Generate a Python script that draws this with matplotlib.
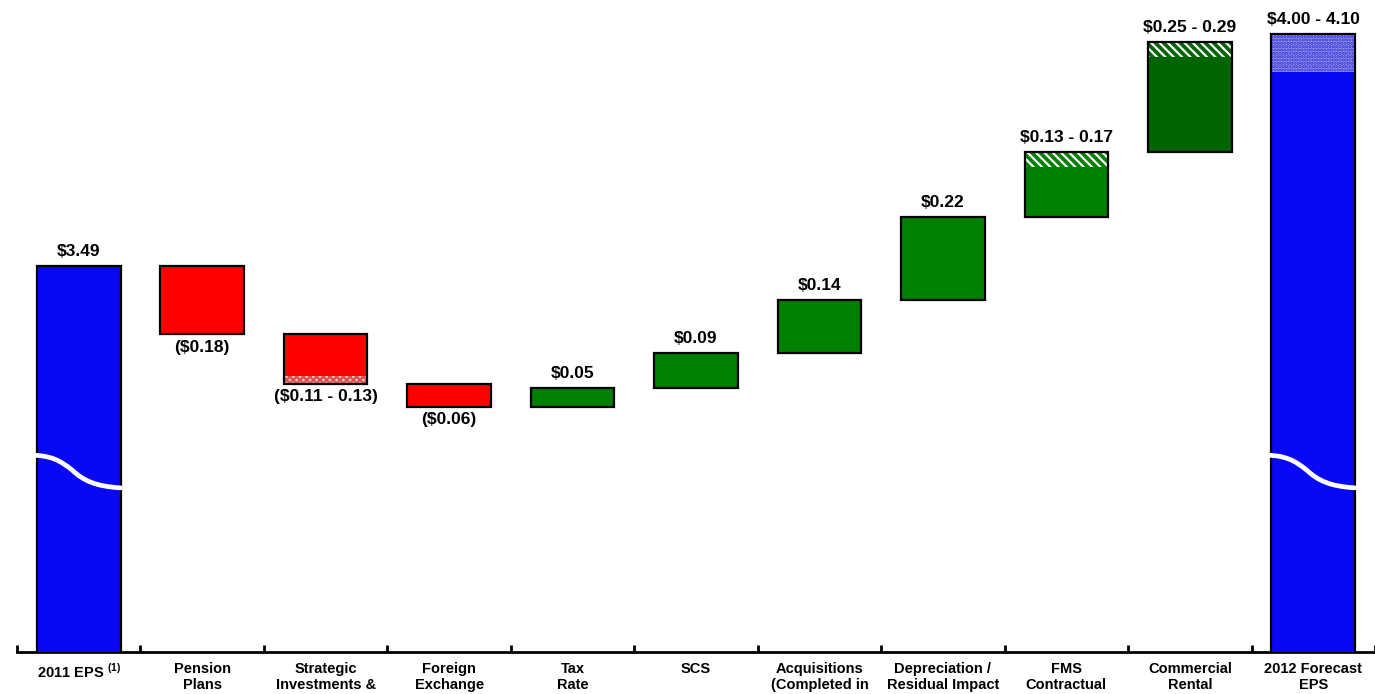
import numpy as np
import matplotlib
matplotlib.use("Agg")
import matplotlib.pyplot as plt
from matplotlib.path import Path
from matplotlib.patches import PathPatch

plt.rcParams['font.family'] = ['Liberation Sans', 'DejaVu Sans']
plt.rcParams['mathtext.fontset'] = 'custom'
plt.rcParams['mathtext.rm'] = 'Liberation Sans'
plt.rcParams['mathtext.bf'] = 'Liberation Sans:bold'
plt.rcParams['hatch.linewidth'] = 1.6

# ---- data -------------------------------------------------------------
categories = [
    "2011 EPS $^{\\mathbf{(1)}}$",
    "Pension\nPlans",
    "Strategic\nInvestments &",
    "Foreign\nExchange",
    "Tax\nRate",
    "SCS",
    "Acquisitions\n(Completed in",
    "Depreciation /\nResidual Impact",
    "FMS\nContractual",
    "Commercial\nRental",
    "2012 Forecast\nEPS",
]
start_eps = 3.49
# low / high impact of each driver (EPS, $)
delta_low = [-0.18, -0.13, -0.06, 0.05, 0.09, 0.14, 0.22, 0.13, 0.25]
delta_high = [-0.18, -0.11, -0.06, 0.05, 0.09, 0.14, 0.22, 0.17, 0.29]
forecast_low, forecast_high = 4.00, 4.10

# ---- styling ----------------------------------------------------------
BLUE = '#0808f4'
RED = '#ff0000'
GREEN = '#008000'
DKGREEN = '#006400'
driver_colors = [RED, RED, RED, GREEN, GREEN, GREEN, GREEN, GREEN, DKGREEN]

fig = plt.figure(figsize=(13.75, 6.94), dpi=100)
ax = fig.add_axes([17 / 1375, 42 / 694, 1358 / 1375, 652 / 694])
ax.set_xlim(-0.5, 10.443)
ax.set_ylim(2.474, 4.190)

W = 0.677
EDGE_LW = 1.6


def draw_break(ax, xc):
    """White S-shaped cut across a truncated total bar."""
    x0, x1 = xc - W / 2 - 0.03, xc + W / 2
    yh, yl = 2.992, 2.906
    w = x1 - x0
    verts = [(x0, yh),
             (x0 + 0.20 * w, yh - 0.002), (x0 + 0.30 * w, yh - 0.012),
             (x0 + 0.45 * w, yh - 0.040),
             (x0 + 0.58 * w, yl + 0.018), (x0 + 0.72 * w, yl + 0.004),
             (x1, yl)]
    codes = [Path.MOVETO,
             Path.CURVE4, Path.CURVE4, Path.CURVE4,
             Path.CURVE4, Path.CURVE4, Path.CURVE4]
    ax.add_patch(PathPatch(Path(verts, codes), facecolor='none',
                           edgecolor='white', lw=3.4, zorder=5,
                           capstyle='round'))


def label(ax, x, y, text, above=True):
    ax.annotate(text, (x, y), xytext=(0, 5 if above else -4),
                textcoords='offset points', ha='center',
                va='bottom' if above else 'top',
                fontsize=12.5, fontweight='bold', zorder=6)


# starting total
ax.bar(0, start_eps, W, bottom=0, color=BLUE, edgecolor='black',
       lw=EDGE_LW, zorder=3)
draw_break(ax, 0)
label(ax, 0, start_eps, "\\$%.2f" % start_eps)

# drivers
level = start_eps
for i, (lo, hi, col) in enumerate(zip(delta_low, delta_high, driver_colors)):
    x = i + 1
    small, big = sorted([abs(lo), abs(hi)])
    sign = 1 if hi > 0 else -1
    if sign > 0:
        ax.bar(x, small, W, bottom=level, color=col, lw=0, zorder=3)
        if big > small:
            ax.bar(x, big - small, W, bottom=level + small, color=col,
                   edgecolor='white', hatch='\\\\\\\\', lw=0, zorder=3)
        ax.bar(x, big, W, bottom=level, fill=False, edgecolor='black',
               lw=EDGE_LW, zorder=4)
        txt = ("\\$%.2f" % small) if big == small else \
            ("\\$%.2f - %.2f" % (small, big))
        label(ax, x, level + big, txt, above=True)
        level += big
    else:
        ax.bar(x, -small, W, bottom=level, color=col, lw=0, zorder=3)
        if big > small:
            ax.bar(x, -(big - small), W, bottom=level - small,
                   color='#f3c6c6', edgecolor='#e05050', hatch='xxxxx',
                   lw=0, zorder=3)
        ax.bar(x, -big, W, bottom=level, fill=False, edgecolor='black',
               lw=EDGE_LW, zorder=4)
        txt = ("(\\$%.2f)" % small) if big == small else \
            ("(\\$%.2f - %.2f)" % (small, big))
        label(ax, x, level - big, txt, above=False)
        level -= big

# forecast total
xf = len(categories) - 1
ax.bar(xf, forecast_low, W, bottom=0, color=BLUE, lw=0, zorder=3)
ax.bar(xf, forecast_high - forecast_low, W, bottom=forecast_low,
       color='#9a9aec', edgecolor='#2a2ad8', hatch='.....', lw=0, zorder=3)
ax.bar(xf, forecast_high, W, bottom=0, fill=False, edgecolor='black',
       lw=EDGE_LW, zorder=4)
draw_break(ax, xf)
label(ax, xf, forecast_high,
      "\\$%.2f - %.2f" % (forecast_low, forecast_high))

# axes
for s in ['left', 'right', 'top']:
    ax.spines[s].set_visible(False)
ax.spines['bottom'].set_linewidth(2)
ax.set_yticks([])
ax.set_xticks(np.arange(-0.5, len(categories), 1.0))
ax.set_xticklabels([])
ax.tick_params(axis='x', which='major', direction='in', length=5, width=2)
ax.set_xticks(np.arange(len(categories)), minor=True)
ax.set_xticklabels(categories, minor=True, fontsize=10.5, fontweight='bold',
                   linespacing=1.2)
ax.tick_params(axis='x', which='minor', length=0, pad=7)

fig.savefig("out.png", dpi=100)
